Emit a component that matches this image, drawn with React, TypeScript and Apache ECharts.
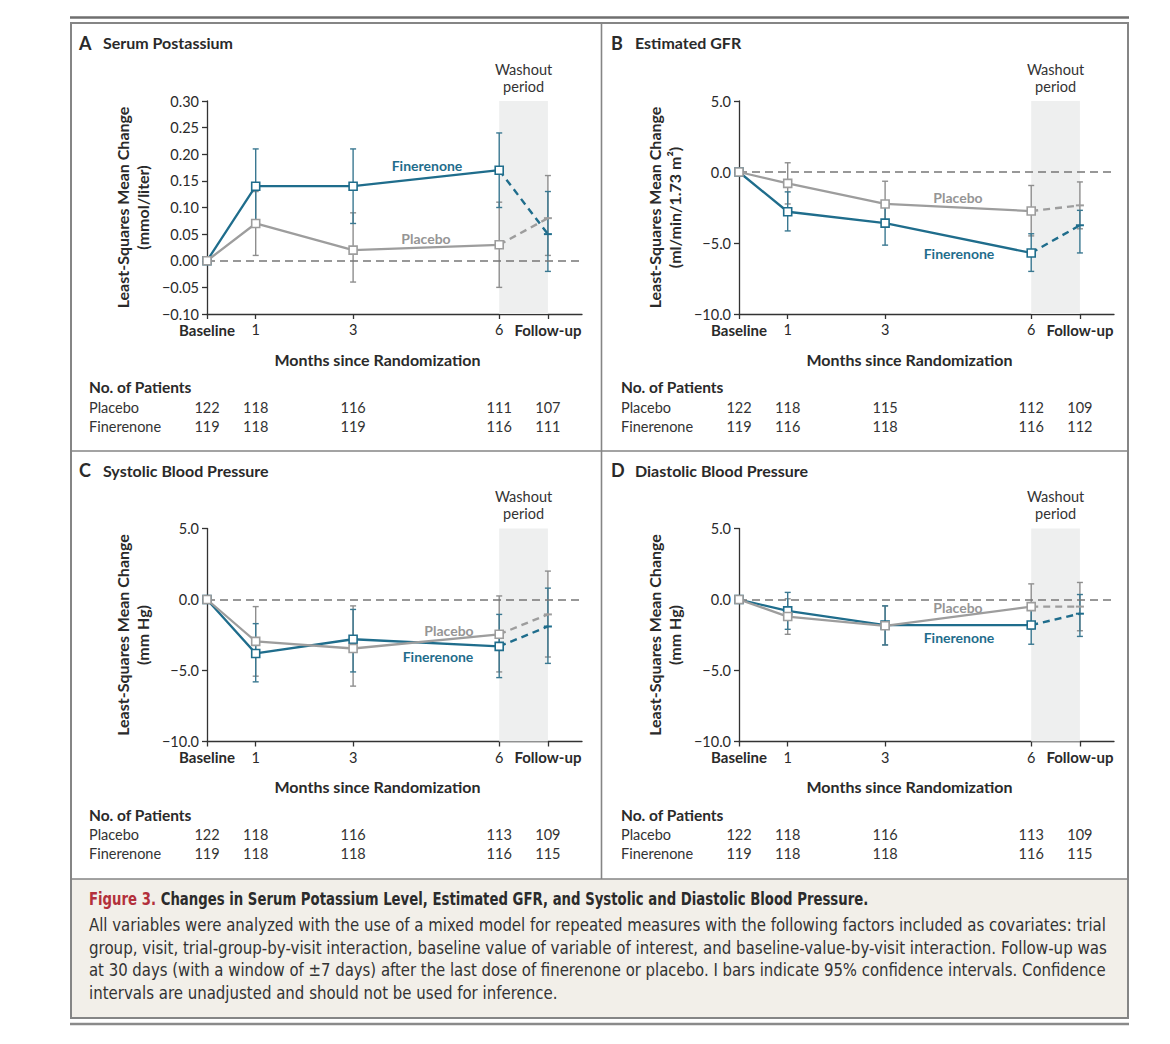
import React, { useEffect, useRef } from "react";
import * as echarts from "echarts";

// ---------- shared axis data ----------
const xPositions = [0, 1, 3, 6, 7];
const xTickLabels = ["Baseline", "1", "3", "6", "Follow-up"];
const errPositions = [1, 3, 6, 7];

// ---------- A: serum potassium (mmol/liter) ----------
const kFinMean = [0, 0.14, 0.14, 0.17, 0.05];
const kFinLow = [0.07, 0.07, 0.1, -0.02];
const kFinHigh = [0.21, 0.21, 0.24, 0.13];
const kPlacMean = [0, 0.07, 0.02, 0.03, 0.08];
const kPlacLow = [0.01, -0.04, -0.05, 0.01];
const kPlacHigh = [0.13, 0.09, 0.11, 0.16];
const kPlacN = [122, 118, 116, 111, 107];
const kFinN = [119, 118, 119, 116, 111];

// ---------- B: eGFR (ml/min/1.73 m2) ----------
const gFinMean = [0, -2.8, -3.6, -5.7, -3.75];
const gFinLow = [-4.15, -5.15, -7.0, -5.7];
const gFinHigh = [-1.4, -2.05, -4.35, -2.7];
const gPlacMean = [0, -0.8, -2.25, -2.75, -2.35];
const gPlacLow = [-2.25, -3.85, -4.5, -4.0];
const gPlacHigh = [0.65, -0.65, -0.95, -0.7];
const gPlacN = [122, 118, 115, 112, 109];
const gFinN = [119, 116, 118, 116, 112];

// ---------- C: systolic BP (mm Hg) ----------
const sFinMean = [0, -3.8, -2.8, -3.3, -1.9];
const sFinLow = [-5.8, -5.1, -5.5, -4.5];
const sFinHigh = [-1.7, -0.7, -1.05, 0.8];
const sPlacMean = [0, -2.95, -3.45, -2.45, -1.05];
const sPlacLow = [-5.4, -6.1, -5.1, -4.05];
const sPlacHigh = [-0.5, -0.45, 0.25, 2.0];
const sPlacN = [122, 118, 116, 113, 109];
const sFinN = [119, 118, 118, 116, 115];

// ---------- D: diastolic BP (mm Hg) ----------
const dFinMean = [0, -0.8, -1.8, -1.8, -1.0];
const dFinLow = [-2.1, -3.2, -3.15, -2.6];
const dFinHigh = [0.5, -0.45, -0.45, 0.35];
const dPlacMean = [0, -1.2, -1.85, -0.5, -0.5];
const dPlacLow = [-2.45, -3.2, -2.1, -2.2];
const dPlacHigh = [0.05, -0.45, 1.1, 1.2];
const dPlacN = [122, 118, 116, 113, 109];
const dFinN = [119, 118, 118, 116, 115];

// ---------- axis ranges ----------
const kTicks = { min: -0.1, max: 0.3, interval: 0.05, decimals: 2 };
const mmTicks = { min: -10, max: 5, interval: 5, decimals: 1 };

// ---------- captions ----------
const captionTitle = "Changes in Serum Potassium Level, Estimated GFR, and Systolic and Diastolic Blood Pressure.";
const captionLines = [
  "All variables were analyzed with the use of a mixed model for repeated measures with the following factors included as covariates: trial",
  "group, visit, trial-group-by-visit interaction, baseline value of variable of interest, and baseline-value-by-visit interaction. Follow-up was",
  "at 30 days (with a window of \u00b17 days) after the last dose of finerenone or placebo. I bars indicate 95% confidence intervals. Confidence",
  "intervals are unadjusted and should not be used for inference.",
];

const FONT = "Lato, 'Noto Sans', sans-serif";
const CAP_FONT = "'Liberation Sans Narrow', 'DejaVu Sans Condensed', 'Noto Sans', sans-serif";
const FIN_COLOR = "#1f6d8c";
const PLAC_COLOR = "#9d9d9d";
const FIN_ERR = "#3a7891";
const PLAC_ERR = "#8e8e8e";
const TEXT = "#2a2a2a";

const panels = [
  {
    letter: "A", title: "Serum Postassium", unit: "(mmol/liter)", ox: 0, oy: 0, ticks: kTicks,
    finMean: kFinMean, finLow: kFinLow, finHigh: kFinHigh,
    placMean: kPlacMean, placLow: kPlacLow, placHigh: kPlacHigh,
    placN: kPlacN, finN: kFinN,
    finLabel: [427, 165], placLabel: [426, 238],
  },
  {
    letter: "B", title: "Estimated GFR", unit: "(ml/min/1.73 m\u00b2)", ox: 532, oy: 0, ticks: mmTicks,
    finMean: gFinMean, finLow: gFinLow, finHigh: gFinHigh,
    placMean: gPlacMean, placLow: gPlacLow, placHigh: gPlacHigh,
    placN: gPlacN, finN: gFinN,
    finLabel: [427, 253], placLabel: [426, 197],
  },
  {
    letter: "C", title: "Systolic Blood Pressure", unit: "(mm Hg)", ox: 0, oy: 427.5, ticks: mmTicks,
    finMean: sFinMean, finLow: sFinLow, finHigh: sFinHigh,
    placMean: sPlacMean, placLow: sPlacLow, placHigh: sPlacHigh,
    placN: sPlacN, finN: sFinN,
    finLabel: [438, 228.5], placLabel: [449, 202.5],
  },
  {
    letter: "D", title: "Diastolic Blood Pressure", unit: "(mm Hg)", ox: 532, oy: 427.5, ticks: mmTicks,
    finMean: dFinMean, finLow: dFinLow, finHigh: dFinHigh,
    placMean: dPlacMean, placLow: dPlacLow, placHigh: dPlacHigh,
    placN: dPlacN, finN: dFinN,
    finLabel: [427, 209.5], placLabel: [426, 179.5],
  },
];

const GRID_LEFT = 207;
const GRID_TOP = 101;
const GRID_W = 375;
const GRID_H = 213;
const X_MAX = 7.7;

function fmtNum(v: number, d: number) {
  const s = Math.abs(v).toFixed(d);
  return (v < -1e-9 ? "\u2212" : "") + s;
}

function measure(text: string, font: string) {
  const c = document.createElement("canvas").getContext("2d");
  if (!c) return 0;
  c.font = font;
  return c.measureText(text).width;
}

function errRender(color: string) {
  return (params: any, api: any) => {
    const x = api.value(0);
    const lo = api.coord([x, api.value(1)]);
    const hi = api.coord([x, api.value(2)]);
    const w = 3;
    const style = { stroke: color, lineWidth: 1.4, fill: "none" };
    return {
      type: "group",
      children: [
        { type: "line", shape: { x1: lo[0], y1: lo[1], x2: hi[0], y2: hi[1] }, style },
        { type: "line", shape: { x1: lo[0] - w, y1: lo[1], x2: lo[0] + w, y2: lo[1] }, style },
        { type: "line", shape: { x1: hi[0] - w, y1: hi[1], x2: hi[0] + w, y2: hi[1] }, style },
      ],
    };
  };
}

function patientsRender(params: any, api: any) {
  const px = api.coord([api.value(0), 0])[0];
  const cs = params.coordSys;
  const bottom = cs.y + cs.height;
  const st = (t: string) => ({
    text: t, fill: "#333", fontSize: 14.5, fontFamily: FONT,
    align: "center", textAlign: "center", verticalAlign: "middle", textVerticalAlign: "middle",
  });
  return {
    type: "group",
    children: [
      { type: "text", x: px, y: bottom + 93, style: st(String(api.value(1))) },
      { type: "text", x: px, y: bottom + 112, style: st(String(api.value(2))) },
    ],
  };
}

function txt(x: number, y: number, text: string, opts: any = {}, extra: any = {}) {
  return {
    type: "text",
    x, y,
    z: 10,
    ...extra,
    style: {
      text,
      fill: opts.fill || TEXT,
      fontSize: opts.fontSize || 14,
      fontWeight: opts.fontWeight || "normal",
      fontFamily: opts.fontFamily || FONT,
      align: opts.align || "left",
      textAlign: opts.align || "left",
      verticalAlign: opts.va || "middle",
      textVerticalAlign: opts.va || "middle",
      lineHeight: opts.lineHeight,
      rich: opts.rich,
    },
  };
}

function buildOption() {
  const grids: any[] = [];
  const xAxes: any[] = [];
  const yAxes: any[] = [];
  const series: any[] = [];
  const g: any[] = [];

  panels.forEach((p, i) => {
    const left = GRID_LEFT + p.ox;
    const top = GRID_TOP + p.oy;
    grids.push({ left, top, width: GRID_W, height: GRID_H, containLabel: false, outerBoundsMode: "none" });

    xAxes.push({
      type: "value", gridIndex: i, min: 0, max: X_MAX,
      axisLine: { show: true, onZero: false, lineStyle: { color: "#333", width: 1.3 } },
      axisTick: { show: true, length: 5, customValues: xPositions, lineStyle: { color: "#333", width: 1.3 } },
      axisLabel: {
        customValues: xPositions, margin: 8, color: TEXT, fontFamily: FONT, fontSize: 14,
        formatter: (v: number) => {
          const idx = xPositions.indexOf(v);
          const t = idx >= 0 ? xTickLabels[idx] : "";
          return idx === 0 || idx === xPositions.length - 1 ? `{b|${t}}` : `{n|${t}}`;
        },
        rich: {
          b: { fontWeight: "bold", fontSize: 15, fontFamily: FONT, color: TEXT },
          n: { fontSize: 14.5, fontFamily: FONT, color: TEXT },
        },
      },
      splitLine: { show: false },
    });

    yAxes.push({
      type: "value", gridIndex: i, min: p.ticks.min, max: p.ticks.max, interval: p.ticks.interval,
      axisLine: { show: true, onZero: false, lineStyle: { color: "#333", width: 1.3 } },
      axisTick: { show: true, length: 5, lineStyle: { color: "#333", width: 1.3 } },
      axisLabel: {
        margin: 8, color: TEXT, fontFamily: FONT, fontSize: 14.5,
        formatter: (v: number) => fmtNum(v, p.ticks.decimals),
      },
      splitLine: { show: false },
    });

    const ax = { xAxisIndex: i, yAxisIndex: i };

    // background: washout shading + zero line
    series.push({
      type: "line", ...ax, data: [], z: 1, silent: true,
      markArea: {
        silent: true,
        itemStyle: { color: "#eeefef" },
        data: [[{ xAxis: 6 }, { xAxis: 7 }]],
      },
      markLine: {
        silent: true, symbol: "none", label: { show: false },
        lineStyle: { color: "#777", type: [8, 5], width: 1.6 },
        data: [{ yAxis: 0 }],
      },
    });

    // error bars
    series.push({
      type: "custom", ...ax, z: 2, silent: true,
      renderItem: errRender(PLAC_ERR),
      encode: { x: 0, y: [1, 2] },
      data: errPositions.map((x, k) => [x, p.placLow[k], p.placHigh[k]]),
    });
    series.push({
      type: "custom", ...ax, z: 2, silent: true,
      renderItem: errRender(FIN_ERR),
      encode: { x: 0, y: [1, 2] },
      data: errPositions.map((x, k) => [x, p.finLow[k], p.finHigh[k]]),
    });

    // dashed washout segments
    const dashed = (mean: number[], color: string, z: number) => ({
      type: "line", ...ax, z, silent: true,
      symbol: "rect", symbolSize: [8, 2], showSymbol: true,
      itemStyle: { color },
      lineStyle: { color, width: 2.4, type: [7, 5] },
      data: [
        { value: [xPositions[3], mean[3]], symbol: "none" },
        { value: [xPositions[4], mean[4]] },
      ],
    });
    series.push(dashed(p.placMean, PLAC_COLOR, 3));
    series.push(dashed(p.finMean, FIN_COLOR, 3));

    // solid lines
    const solid = (mean: number[], color: string, z: number) => ({
      type: "line", ...ax, z, silent: true,
      symbol: "rect", symbolSize: 8, showSymbol: true,
      itemStyle: { color: "#fff", borderColor: color, borderWidth: 1.6 },
      lineStyle: { color, width: 2.3 },
      data: xPositions.slice(0, 4).map((x, k) => [x, mean[k]]),
    });
    series.push(solid(p.finMean, FIN_COLOR, 4));
    series.push(solid(p.placMean, PLAC_COLOR, 5));

    // number of patients
    series.push({
      type: "custom", ...ax, z: 5, silent: true, clip: false,
      renderItem: patientsRender,
      encode: { x: 0, y: 3 },
      data: xPositions.map((x, k) => [x, p.placN[k], p.finN[k], 0]),
    });

    // ---- graphic texts for the panel ----
    const ox = p.ox, oy = p.oy;
    g.push(txt(79 + ox, 42.5 + oy, p.letter, { fontWeight: "bold", fontSize: 18 }));
    g.push(txt(103 + ox, 42.5 + oy, p.title, { fontWeight: "bold", fontSize: 16 }));

    const midY = top + GRID_H / 2;
    g.push(txt(122 + ox, midY, "Least-Squares Mean Change", { fontWeight: "bold", fontSize: 16, align: "center" }, { rotation: Math.PI / 2 }));
    g.push(txt(142 + ox, midY, p.unit, { fontWeight: "bold", fontSize: 16, align: "center" }, { rotation: Math.PI / 2 }));

    const pxPerMonth = GRID_W / X_MAX;
    g.push(txt(left + 6.5 * pxPerMonth, 77.5 + oy, "Washout\nperiod", { align: "center", fontSize: 14.5, lineHeight: 17, fill: "#333" }));
    g.push(txt(left + 3.5 * pxPerMonth, 359 + oy, "Months since Randomization", { fontWeight: "bold", fontSize: 16, align: "center" }));

    g.push(txt(p.finLabel[0] + ox, p.finLabel[1] + oy, "Finerenone", { fontWeight: "bold", fontSize: 14, align: "center", fill: FIN_COLOR }));
    g.push(txt(p.placLabel[0] + ox, p.placLabel[1] + oy, "Placebo", { fontWeight: "bold", fontSize: 14, align: "center", fill: "#959595" }));

    g.push(txt(89 + ox, 387 + oy, "No. of Patients", { fontWeight: "bold", fontSize: 15.5 }));
    g.push(txt(89 + ox, 407 + oy, "Placebo", { fontSize: 14.5, fill: "#333" }));
    g.push(txt(89 + ox, 426 + oy, "Finerenone", { fontSize: 14.5, fill: "#333" }));
  });

  // ---- frame ----
  const frameStroke = "#858585";
  g.push({ type: "rect", z: 0, shape: { x: 72, y: 879, width: 1055, height: 139 }, style: { fill: "#f2efe9", stroke: "none" } });
  g.push({ type: "line", z: 1, shape: { x1: 70, y1: 17.5, x2: 1129, y2: 17.5 }, style: { stroke: "#6f6f6f", lineWidth: 2.5 } });
  g.push({ type: "rect", z: 1, shape: { x: 71, y: 23, width: 1057, height: 995 }, style: { fill: "none", stroke: frameStroke, lineWidth: 2 } });
  g.push({ type: "line", z: 1, shape: { x1: 601.5, y1: 23, x2: 601.5, y2: 879 }, style: { stroke: frameStroke, lineWidth: 1.6 } });
  g.push({ type: "line", z: 1, shape: { x1: 71, y1: 451, x2: 1128, y2: 451 }, style: { stroke: frameStroke, lineWidth: 1.6 } });
  g.push({ type: "line", z: 1, shape: { x1: 71, y1: 879, x2: 1128, y2: 879 }, style: { stroke: frameStroke, lineWidth: 1.6 } });
  g.push({ type: "line", z: 1, shape: { x1: 70, y1: 1024, x2: 1129, y2: 1024 }, style: { stroke: "#8a8a8a", lineWidth: 2.5 } });

  // ---- caption ----
  const capSize = 17;
  const titleFont = `bold ${capSize}px ${CAP_FONT}`;
  const bodyFont = `${capSize}px ${CAP_FONT}`;
  const titleW = measure("Figure 3. " + captionTitle, titleFont) || 780;
  const titleScale = 780 / titleW;
  const scales = captionLines.slice(0, 3).map((l) => 1018 / (measure(l, bodyFont) || 1018));
  const avgScale = scales.reduce((a, b) => a + b, 0) / scales.length;
  g.push(txt(89, 899, "{r|Figure 3.} {t|" + captionTitle + "}", {
    fontFamily: CAP_FONT, fontSize: capSize, fontWeight: "bold",
    rich: {
      r: { fill: "#b3303b", fontWeight: "bold", fontSize: capSize, fontFamily: CAP_FONT },
      t: { fill: "#2b2b2b", fontWeight: "bold", fontSize: capSize, fontFamily: CAP_FONT },
    },
  }, { scaleX: titleScale }));
  const lineYs = [925, 947.5, 970, 992.5];
  captionLines.forEach((l, k) => {
    g.push(txt(89, lineYs[k], l, { fontFamily: CAP_FONT, fontSize: capSize, fill: "#333" }, { scaleX: k < 3 ? scales[k] : avgScale }));
  });

  return {
    animation: false,
    backgroundColor: "#ffffff",
    grid: grids,
    xAxis: xAxes,
    yAxis: yAxes,
    series,
    graphic: { elements: g },
  };
}

export default function App() {
  const ref = useRef<HTMLDivElement>(null);
  useEffect(() => {
    if (!ref.current) return;
    const chart = echarts.init(ref.current, null, { renderer: "svg" });
    chart.setOption(buildOption() as any);
    return () => chart.dispose();
  }, []);
  return (
    <div
      ref={ref}
      style={{ position: "absolute", left: 0, top: 0, width: 1170, height: 1044, background: "#fff" }}
    />
  );
}
